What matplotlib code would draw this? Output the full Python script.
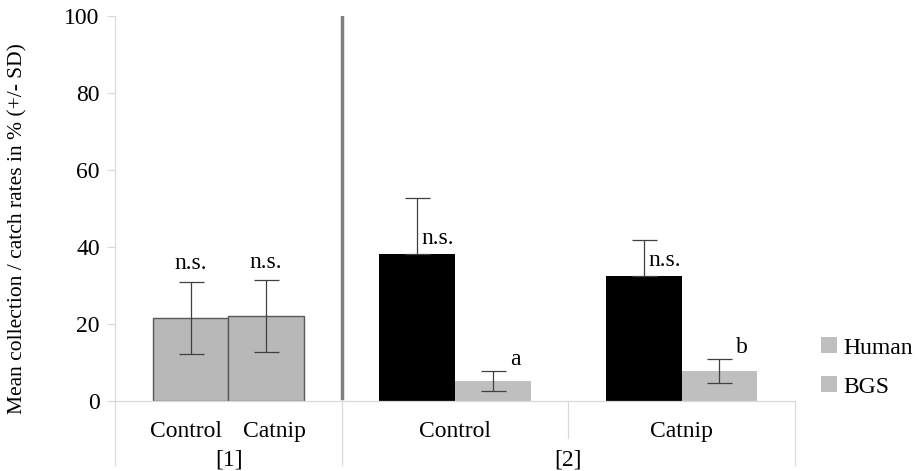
import matplotlib
matplotlib.use('Agg')
from matplotlib import pyplot as plt
from matplotlib.patches import Patch
import numpy as np

plt.rcParams['font.family'] = ['Liberation Serif', 'DejaVu Serif']

# trial [1]
trial1_labels = ['Control', 'Catnip']
trial1_mean = [21.6, 22.1]
trial1_sd = [9.4, 9.3]
trial1_notes = ['n.s.', 'n.s.']

# trial [2]
trial2_labels = ['Control', 'Catnip']
human_mean = [38.3, 32.4]
human_sd = [14.4, 9.5]
bgs_mean = [5.2, 7.9]
bgs_sd = [2.6, 3.1]
human_notes = ['n.s.', 'n.s.']
bgs_notes = ['a', 'b']

group_labels = ['[1]', '[2]']
legend_labels = ['Human', 'BGS']
yticks = [0, 20, 40, 60, 80, 100]

fig = plt.figure(figsize=(9.19, 4.71), dpi=100)
ax = fig.add_axes([115 / 919, 1 - 401 / 471, 680 / 919, 385 / 471])

w = 1 / 3
err_col = '#404040'
fs = 17
ekw = dict(fmt='none', ecolor=err_col, elinewidth=0.9, capsize=9, capthick=0.9)

# trial 1: two grey bars in the first category
x1 = np.array([0.5 - w / 2, 0.5 + w / 2])
ax.bar(x1, trial1_mean, width=w, color='#b8b8b8', edgecolor='#595959', linewidth=1)
ax.errorbar(x1, trial1_mean, yerr=trial1_sd, **ekw)
for x, m, s, t in zip(x1, trial1_mean, trial1_sd, trial1_notes):
    ax.text(x, m + s + 4.6, t, ha='center', va='center', fontsize=fs)

# trial 2: human vs BGS per treatment
c2 = np.array([1.5, 2.5])
xh = c2 - w / 2
xb = c2 + w / 2
ax.bar(xh, human_mean, width=w, color='black')
ax.bar(xb, bgs_mean, width=w, color='#bfbfbf')
ax.errorbar(xh, human_mean, yerr=[np.zeros(2), human_sd], **ekw)
ax.errorbar(xb, bgs_mean, yerr=bgs_sd, **ekw)
for x, m, t in zip(xh, human_mean, human_notes):
    ax.text(x + 0.02, m + 4.0, t, ha='left', va='center', fontsize=fs)
for x, m, s, t in zip(xb, bgs_mean, bgs_sd, bgs_notes):
    ax.text(x + 0.1, m + s + 3.0, t, ha='center', va='center', fontsize=fs)

# divider between trials
ax.plot([1, 1], [0.8, 100], color='#808080', linewidth=2.5)

ax.set_xlim(0, 3)
ax.set_ylim(0, 100)
ax.set_yticks(yticks)
ax.tick_params(axis='y', labelsize=fs, length=6, width=0.8, color='#d9d9d9', pad=5)
ax.set_xticks([])
for side in ['top', 'right']:
    ax.spines[side].set_visible(False)
for side in ['left', 'bottom']:
    ax.spines[side].set_color('#d9d9d9')
    ax.spines[side].set_linewidth(0.9)
ax.set_ylabel('Mean collection / catch rates in % (+/- SD)', fontsize=15.5)
ax.yaxis.set_label_coords(-0.128, 0.447)

# category axis text and separators
tr = ax.get_xaxis_transform()
for x, lab in zip([0.315, 0.702], trial1_labels):
    ax.text(x, -0.078, lab, transform=tr, ha='center', va='center', fontsize=fs)
for x, lab in zip(c2, trial2_labels):
    ax.text(x, -0.078, lab, transform=tr, ha='center', va='center', fontsize=fs)
for x, lab in zip([0.503, 2.0], group_labels):
    ax.text(x, -0.154, lab, transform=tr, ha='center', va='center', fontsize=fs)
for x, y0 in [(0, -0.166), (1, -0.166), (2, -0.096), (3, -0.166)]:
    ax.plot([x, x], [0, y0], transform=tr, color='#d9d9d9', linewidth=0.9, clip_on=False)

handles = [Patch(facecolor='#bfbfbf') for _ in legend_labels]
fig.legend(handles, legend_labels, loc='center left', bbox_to_anchor=(800 / 919, 1 - 367.5 / 471),
           frameon=False, fontsize=fs, handlelength=0.65, handleheight=0.65,
           handletextpad=0.3, labelspacing=0.75)

fig.savefig('out.png', dpi=100)
